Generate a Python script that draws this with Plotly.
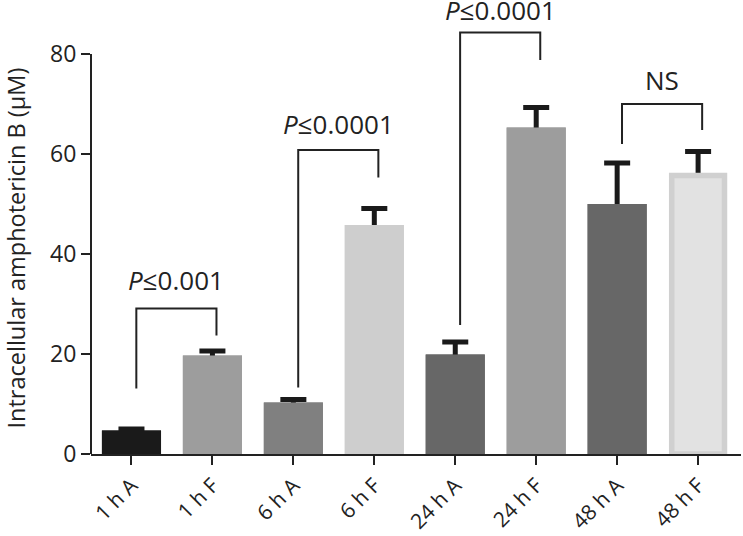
import plotly.graph_objects as go

categories = ["1 h A", "1 h F", "6 h A", "6 h F", "24 h A", "24 h F", "48 h A", "48 h F"]
means = [4.7, 19.7, 10.3, 45.8, 19.9, 65.3, 50.0, 55.7]
errors = [0.3, 0.9, 0.6, 3.3, 2.5, 4.0, 8.2, 4.8]
bar_colors = ["#1a1a1a", "#9d9d9d", "#808080", "#cecece", "#676767", "#9d9d9d", "#676767", "#e2e2e2"]
outline_colors = ["#1a1a1a", "#9d9d9d", "#808080", "#cecece", "#676767", "#9d9d9d", "#676767", "#d0d0d0"]
outline_widths = [0, 0, 0, 0, 0, 0, 0, 5.5]
bar_widths = [0.73, 0.73, 0.73, 0.73, 0.73, 0.73, 0.73, 0.652]

# significance comparisons
comp_left = [0, 2, 4, 6]
comp_right = [1, 3, 5, 7]
comp_left_bottom = [13.1, 13.3, 25.8, 62.0]
comp_right_bottom = [23.7, 55.3, 78.8, 64.8]
comp_top = [29.1, 60.8, 84.3, 70.0]
comp_labels = ["<i>P</i>≤0.001", "<i>P</i>≤0.0001", "<i>P</i>≤0.0001", "NS"]
label_lift_px = [28.5, 26, 22.5, 24]

y_ticks = [0, 20, 40, 60, 80]
Y_MAX = 88
INK = "#222222"
FONT = "Open Sans"

x = list(range(len(categories)))

fig = go.Figure()
# bars carrying the error bars (lower half hidden by the overlay below)
fig.add_trace(go.Bar(
    x=x, y=means, width=bar_widths,
    marker=dict(color=bar_colors, line=dict(width=0)),
    error_y=dict(type="data", array=errors, symmetric=True,
                 color="#1a1a1a", thickness=5, width=13),
    showlegend=False, hoverinfo="skip",
))
# bars drawn on top
fig.add_trace(go.Bar(
    x=x, y=means, width=bar_widths,
    marker=dict(color=bar_colors, line=dict(width=outline_widths, color=outline_colors)),
    showlegend=False,
))

shapes = []
annotations = []
for l, r, lb, rb, top, lab, lift in zip(comp_left, comp_right, comp_left_bottom,
                                        comp_right_bottom, comp_top, comp_labels,
                                        label_lift_px):
    xl = l + 0.06
    xr = r + 0.05
    shapes.append(dict(type="path", xref="x", yref="y",
                       path=f"M {xl},{lb} L {xl},{top} L {xr},{top} L {xr},{rb}",
                       line=dict(color=INK, width=2)))
    annotations.append(dict(x=(xl + xr) / 2, y=top / Y_MAX, xref="x", yref="paper",
                            text=lab, showarrow=False, yanchor="middle", yshift=lift,
                            font=dict(family=FONT, size=26, color=INK)))

# y axis line only up to 80
shapes.append(dict(type="line", xref="paper", yref="paper", x0=0, x1=0,
                   y0=0, y1=y_ticks[-1] / Y_MAX, line=dict(color=INK, width=2)))

annotations.append(dict(x=0, y=(454 - 248.5) / 440, xref="paper", yref="paper",
                        text="Intracellular amphotericin B (μM)", textangle=-90,
                        showarrow=False, xanchor="center", yanchor="middle", xshift=-76,
                        font=dict(family=FONT, size=23.5, color=INK)))

fig.update_layout(
    width=743, height=536,
    margin=dict(l=91, r=2, t=14, b=82, autoexpand=False),
    paper_bgcolor="white", plot_bgcolor="white",
    barmode="overlay",
    shapes=shapes, annotations=annotations,
    font=dict(family=FONT, size=23, color=INK),
    xaxis=dict(range=[-0.5, 7.53], tickvals=x, ticktext=categories, tickangle=-45,
               showline=True, linewidth=2, linecolor=INK, ticks="outside",
               ticklen=9, tickwidth=2, tickcolor=INK, showgrid=False, zeroline=False,
               automargin=False,
               tickfont=dict(family=FONT, size=21, color=INK)),
    yaxis=dict(range=[0, Y_MAX], tickvals=y_ticks, ticks="outside", ticklen=9,
               tickwidth=2, tickcolor=INK, showline=False, showgrid=False,
               zeroline=False, automargin=False,
               tickfont=dict(family=FONT, size=23, color=INK)),
)

fig.write_html("out.html", config={"displayModeBar": False},
               post_script="document.body.style.margin='0px';")
